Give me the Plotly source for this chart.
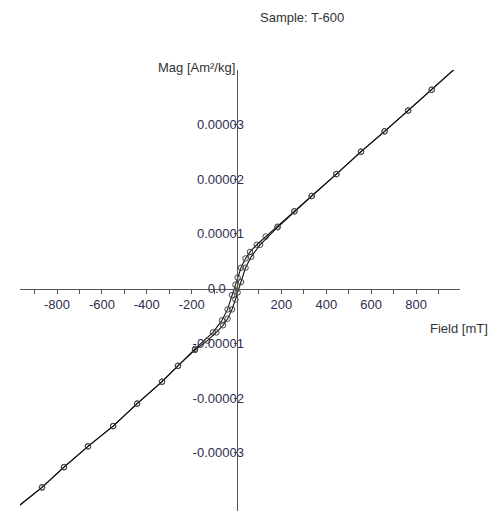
import plotly.graph_objects as go

# Descending branch (from +max field to -max field), field in mT, magnetisation in Am²/kg
field_desc = [975, 870, 765, 660, 555, 445, 335, 258, 183, 130, 90, 60, 40, 20, 5,
              -5, -20, -40, -65, -105, -185, -261, -332, -443, -550, -662, -769, -867, -983]
mag_desc = [4.02e-5, 3.63e-5, 3.25e-5, 2.87e-5, 2.50e-5, 2.09e-5, 1.69e-5, 1.41e-5, 1.13e-5,
            0.95e-5, 0.80e-5, 0.67e-5, 0.55e-5, 0.38e-5, 0.20e-5, 0.07e-5, -0.12e-5, -0.38e-5,
            -0.58e-5, -0.80e-5, -1.10e-5, -1.41e-5, -1.70e-5, -2.10e-5, -2.51e-5, -2.88e-5,
            -3.26e-5, -3.63e-5, -4.01e-5]

# Ascending branch (from -max field back to +max field)
field_asc = [-983, -867, -769, -662, -550, -443, -332, -261, -185, -130, -90, -60, -40, -20, -5,
             5, 20, 40, 65, 105, 183, 258, 335, 445, 555, 660, 765, 870, 975]
mag_asc = [-4.01e-5, -3.63e-5, -3.26e-5, -2.88e-5, -2.51e-5, -2.10e-5, -1.70e-5, -1.41e-5,
           -1.12e-5, -0.95e-5, -0.80e-5, -0.67e-5, -0.55e-5, -0.38e-5, -0.20e-5, -0.07e-5,
           0.12e-5, 0.38e-5, 0.58e-5, 0.80e-5, 1.12e-5, 1.41e-5, 1.69e-5, 2.09e-5, 2.50e-5,
           2.87e-5, 3.25e-5, 3.63e-5, 4.02e-5]

x_tickvals = [-800, -600, -400, -200, 200, 400, 600, 800]
x_ticktext = ["-800", "-600", "-400", "-200", "200", "400", "600", "800"]
y_tickvals = [3e-5, 2e-5, 1e-5, 0, -1e-5, -2e-5, -3e-5]
y_ticktext = ["0.00003", "0.00002", "0.00001", "0.0\u00a0\u00a0\u00a0\u00a0\u00a0",
              "-0.00001", "-0.00002", "-0.00003"]

title_text = "Sample: T-600"
x_title = "Field [mT]"
y_title = "Mag [Am²/kg]"

x_range = [-965, 996]
y_range = [-4.06e-5, 3.99e-5]

FONT = "Liberation Sans, Arial, sans-serif"
LABEL_COLOR = "#2e2e4e"
AXIS_COLOR = "#555555"

fig = go.Figure()
for fx, my in ((field_desc, mag_desc), (field_asc, mag_asc)):
    fig.add_trace(go.Scatter(
        x=fx, y=my, mode="lines+markers", cliponaxis=False,
        line=dict(color="#111111", width=1.1),
        marker=dict(symbol="circle-open", size=5.5, color="#444444", line=dict(width=1)),
        showlegend=False, hoverinfo="skip",
    ))

x_pos = (0 - y_range[0]) / (y_range[1] - y_range[0])
y_pos = (0 - x_range[0]) / (x_range[1] - x_range[0])

fig.update_layout(
    width=491, height=511,
    margin=dict(l=20, r=31, t=70, b=0, pad=0),
    paper_bgcolor="white", plot_bgcolor="white",
    font=dict(family=FONT, size=13, color=LABEL_COLOR),
    xaxis=dict(
        range=x_range, anchor="free", position=x_pos,
        showline=True, linecolor=AXIS_COLOR, linewidth=1.2,
        showgrid=False, zeroline=False,
        tickmode="array", tickvals=x_tickvals, ticktext=x_ticktext,
        ticks="outside", ticklen=4, tickcolor=AXIS_COLOR,
        minor=dict(dtick=100, ticks="outside", ticklen=4, tickcolor=AXIS_COLOR),
        tickfont=dict(size=13, color=LABEL_COLOR),
        automargin=False,
    ),
    yaxis=dict(
        range=y_range, anchor="free", position=y_pos,
        showline=True, linecolor=AXIS_COLOR, linewidth=1.2,
        showgrid=False, zeroline=False,
        tickmode="array", tickvals=y_tickvals, ticktext=y_ticktext,
        ticks="outside", ticklen=3, tickcolor=AXIS_COLOR,
        ticklabelstandoff=-13,
        tickfont=dict(size=13, color=LABEL_COLOR),
        automargin=False,
    ),
    annotations=[
        dict(text=title_text, xref="paper", yref="paper", x=(302 - 20) / 440, y=1 + (70 - 18) / 441,
             xanchor="center", yanchor="middle", showarrow=False,
             font=dict(size=13, color="#333333")),
        dict(text=y_title, xref="paper", yref="paper", x=y_pos, xshift=0, y=1 + (70 - 68) / 441,
             xanchor="right", yanchor="middle", showarrow=False,
             font=dict(size=13, color="#333333")),
        dict(text=x_title, xref="paper", yref="paper", x=(490 - 20) / 440, y=1 - (328 - 70) / 441,
             xanchor="right", yanchor="middle", showarrow=False,
             font=dict(size=13, color="#333333")),
    ],
)

# remove the default 8px page margin so the figure fills the window exactly
fig.write_html("out.html",
               config={"displayModeBar": False, "staticPlot": True},
               post_script="document.body.style.margin='0';document.body.style.overflow='hidden';")
